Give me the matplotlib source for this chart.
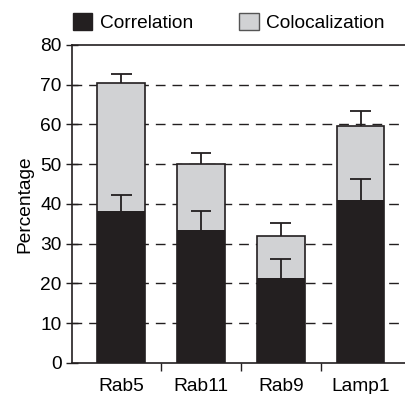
import numpy as np
import matplotlib.pyplot as plt
from matplotlib.patches import Patch

plt.rcParams['font.family'] = ['Liberation Sans', 'DejaVu Sans']

categorias = ['Rab5', 'Rab11', 'Rab9', 'Lamp1']
coloc = [70.3, 50.0, 32.0, 59.5]
coloc_err = [2.5, 2.9, 3.1, 3.8]
correl = [38.3, 33.5, 21.3, 41.0]
correl_err = [4.0, 4.6, 4.9, 5.2]

negro = '#231f20'
gris = '#d1d2d4'
fs = 13.8

fig = plt.figure(figsize=(4.06, 3.94), dpi=100)
ax = fig.add_axes([0.177, 0.079, 0.823, 0.807])

x = np.arange(len(categorias))
ancho = 0.6
cap = 0.13

# lineas de la grilla detras de las barras
for v in range(10, 80, 10):
    ax.axhline(v, color='#231f20', lw=1.0, dashes=(7, 5), zorder=0)

def barras_error(vals, errs, z):
    vals = np.array(vals)
    tops = vals + np.array(errs)
    ax.vlines(x, vals, tops, color=negro, lw=1.3, zorder=z)
    ax.hlines(tops, x - cap, x + cap, color=negro, lw=1.3, zorder=z)

ax.bar(x, coloc, ancho, color=gris, edgecolor=negro, linewidth=1.2, zorder=2)
barras_error(coloc, coloc_err, 3)
ax.bar(x, correl, ancho, color=negro, edgecolor=negro, linewidth=0, zorder=4)
barras_error(correl, correl_err, 5)

ax.set_ylim(0, 80)
ax.set_xlim(-0.62, 3.57)
ax.set_yticks(range(0, 81, 10))
ax.set_xticks(x)
ax.set_xticklabels(categorias, fontsize=fs)
ax.set_xticks([0.5, 1.5, 2.5], minor=True)
ax.tick_params(axis='x', which='major', length=0, pad=11)
ax.tick_params(axis='x', which='minor', length=6, width=1.0, direction='out', color=negro)
ax.tick_params(axis='y', labelsize=fs, direction='inout', length=9, width=1.0, color=negro, pad=3)
ax.set_ylabel('Percentage', fontsize=fs, labelpad=5)

for lado in ['left', 'bottom', 'top']:
    ax.spines[lado].set_color(negro)
    ax.spines[lado].set_linewidth(1.2)
ax.spines['right'].set_visible(False)

manijas = [Patch(facecolor=negro, edgecolor=negro), Patch(facecolor=gris, edgecolor='#555555')]
fig.legend(manijas, ['Correlation', 'Colocalization'], loc='upper left',
           bbox_to_anchor=(0.138, 1.01), ncol=2, frameon=False, fontsize=fs,
           handlelength=1.0, handleheight=1.0, handletextpad=0.4, columnspacing=2.4)

fig.savefig('out.png', dpi=100)
